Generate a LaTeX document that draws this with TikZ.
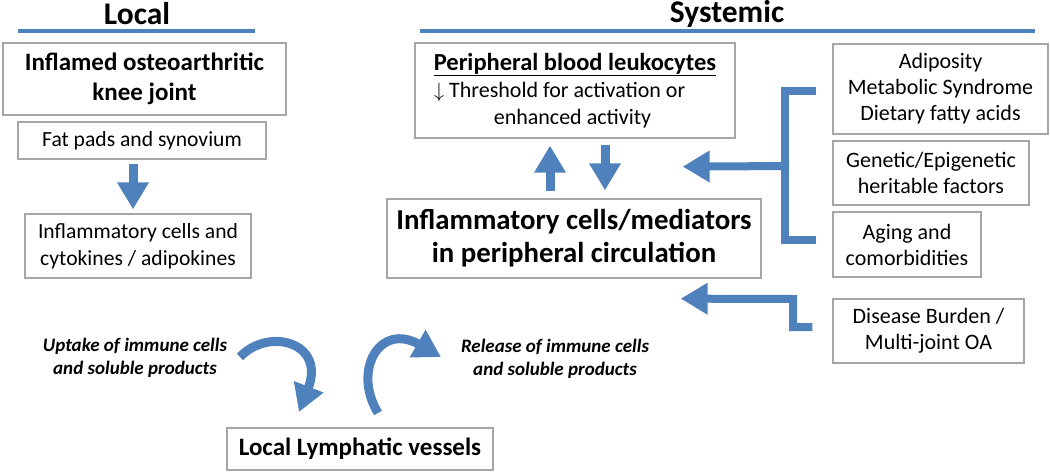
\documentclass[tikz,border=0pt]{standalone}
\usepackage{fontspec}
\setmainfont{Carlito}
\usetikzlibrary{arrows.meta,calc}
\definecolor{oblue}{HTML}{4F81BD}
\definecolor{bgray}{HTML}{A6A6A6}
\tikzset{
  box/.style={draw=bgray, line width=1.3pt, align=center, inner sep=2pt},
  blk/.style={draw=oblue, line width=9pt, -{Triangle[width=30pt,length=27pt]}},
  bar/.style={draw=oblue, line width=8pt, miter limit=10},
  ttl/.style={font=\fontsize{31.5}{34}\selectfont\bfseries},
  rule/.style={draw=oblue, line width=4pt},
  lbl/.style={align=center, font=\fontsize{19}{23}\selectfont\bfseries\itshape},
  sm/.style={font=\fontsize{21.6}{27}\selectfont},
  rt/.style={font=\fontsize{22}{26}\selectfont}
}
\begin{document}
\begin{tikzpicture}[x=1pt,y=-1pt]
\useasboundingbox (0,0) rectangle (1050,472);
% titles
\node[ttl] (tlocal) at (137,14) {Local};
\node[ttl] (tsys) at (727,14) {Systemic};
\coordinate (l1) at (18,31); \coordinate (l2) at (255,31);
\coordinate (s1) at (420,31); \coordinate (s2) at (1035,31);
\draw[rule] (l1) -- (l2);
\draw[rule] (s1) -- (s2);
% local boxes
\node[box, minimum width=283pt, minimum height=72pt, font=\fontsize{25}{30}\selectfont\bfseries] (knee) at (144.5,79) {Inflamed osteoarthritic\\knee joint};
\node[box, sm, minimum width=248pt, minimum height=37pt] (fat) at (142,140.5) {Fat pads and synovium};
\node[box, sm, minimum width=226pt, minimum height=64pt] (infl) at (138,246) {Inflammatory cells and\\cytokines / adipokines};
% systemic boxes
\node[box, minimum width=320pt, minimum height=95pt, align=left, font=\fontsize{22}{27}\selectfont] (periph) at (575,90.5) {{\bfseries\fontsize{24.5}{27}\selectfont\underline{Peripheral blood leukocytes}}\\$\downarrow$ Threshold for activation or\\\hspace*{60pt}enhanced activity};
\node[box, minimum width=374pt, minimum height=79pt, font=\fontsize{28.8}{33}\selectfont\bfseries] (circ) at (574,238.5) {Inflammatory cells/mediators\\in peripheral circulation};
\node[box, rt, minimum width=215pt, minimum height=90pt] (adip) at (940.5,89) {Adiposity\\Metabolic Syndrome\\Dietary fatty acids};
\node[box, rt, minimum width=196pt, minimum height=64pt] (gen) at (931,173) {Genetic/Epigenetic\\heritable factors};
\node[box, rt, minimum width=148pt, minimum height=65pt] (aging) at (907,244.5) {Aging and\\comorbidities};
\node[box, rt, minimum width=191pt, minimum height=64pt] (dis) at (928.5,331) {Disease Burden /\\Multi-joint OA};
\node[box, minimum width=266pt, minimum height=42pt, font=\fontsize{25}{28}\selectfont\bfseries] (lymph) at (360,449) {Local Lymphatic vessels};
% labels
\node[lbl] (uptake) at (135,358) {Uptake of immune cells\\and soluble products};
\node[lbl] (release) at (555,359) {Release of immune cells\\and soluble products};
% local arrow
\draw[blk] ($(fat.south)+(-9,4)$) -- ($(infl.north)+(-5,-4)$);
% up / down arrows
\draw[blk] ($(circ.north)+(-24,-7)$) -- ($(periph.south)+(-25,7)$);
\draw[blk] ($(periph.south)+(30,6)$) -- ($(circ.north)+(31,-8)$);
% bracket
\coordinate (bt) at ($(adip.west)+(-16,2)$);
\coordinate (bb) at ($(aging.west)+(-16,-4.5)$);
\coordinate (bm) at (785,166);
\coordinate (btip) at ($(periph.south east)+(-53,28)$);
\draw[bar] (bt) -| (bm) |- (bb);
\draw[blk, line width=8pt] ($(bm)+(4,0)$) -- (btip);
% disease arrow
\coordinate (dtip) at ($(circ.south east)+(-81,20)$);
\draw[blk, line width=8pt] ($(dis.west)+(-20,-4)$) -- (793,327) -- (793,299) -- (dtip);
% curved arrows
\coordinate (u0) at (240,357);
\coordinate (u1) at (299,412);
\draw[blk, line width=9pt] (u0) .. controls (268,327) and (326,342) .. (u1);
\coordinate (r0) at (378,413);
\coordinate (r1) at (441,357);
\draw[blk, line width=9pt] (r0) .. controls (352,370) and (380,322) .. (r1);
\end{tikzpicture}
\end{document}
